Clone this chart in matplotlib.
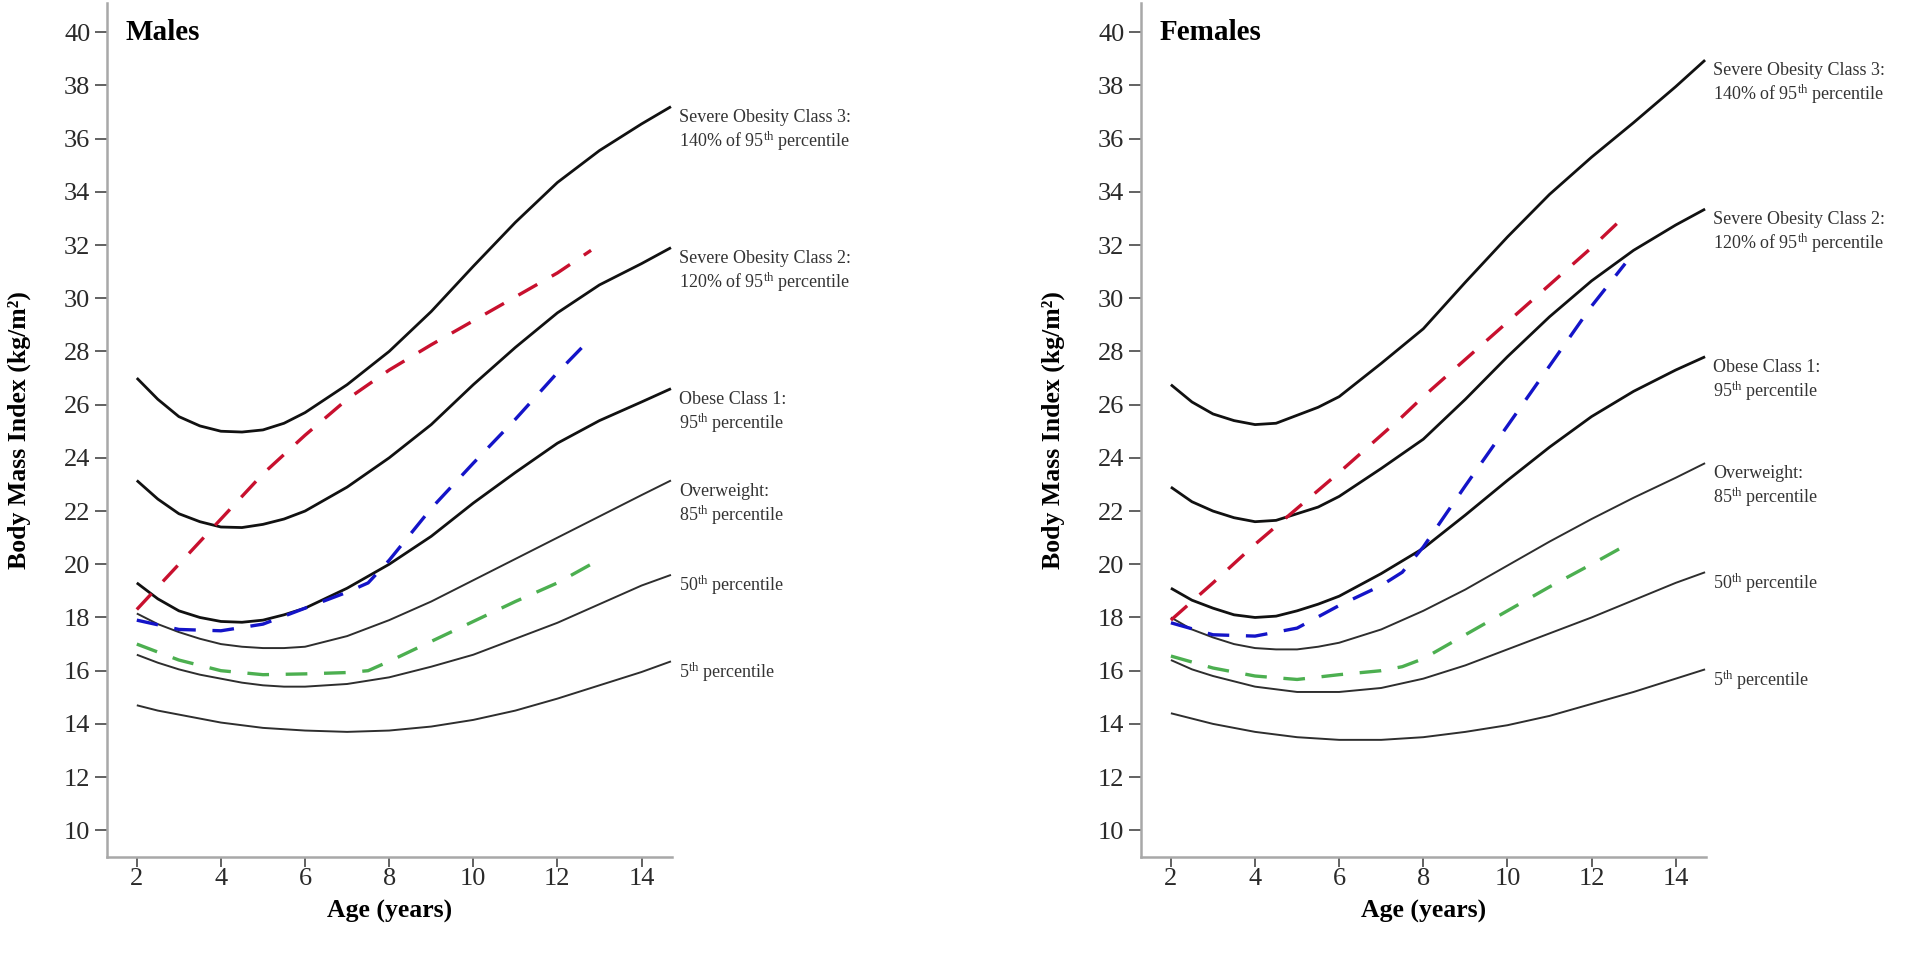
import matplotlib
matplotlib.use("Agg")
import matplotlib.pyplot as plt

# ages of the reference curves (years)
ages = [2, 2.5, 3, 3.5, 4, 4.5, 5, 5.5, 6, 7, 8, 9, 10, 11, 12, 13, 14, 14.7]
# ages of the dashed trajectories
traj_ages = [2, 3, 4, 5, 6, 7, 7.5, 8, 9, 10, 11, 12, 12.8]

# Males, BMI (kg/m2)
m_class3 = [27.0, 26.2, 25.55, 25.2, 25.0, 24.97, 25.05, 25.3, 25.7, 26.75, 28.0, 29.5,
            31.2, 32.85, 34.35, 35.55, 36.55, 37.2]
m_class2 = [23.15, 22.45, 21.9, 21.6, 21.4, 21.38, 21.5, 21.7, 22.0, 22.9, 24.0, 25.25,
            26.75, 28.15, 29.45, 30.5, 31.3, 31.9]
m_p95 = [19.3, 18.7, 18.25, 18.0, 17.85, 17.82, 17.9, 18.1, 18.35, 19.1, 20.0, 21.05,
         22.3, 23.45, 24.55, 25.4, 26.1, 26.6]
m_p85 = [18.15, 17.75, 17.45, 17.2, 17.0, 16.9, 16.85, 16.85, 16.9, 17.3, 17.9, 18.6,
         19.4, 20.2, 21.0, 21.8, 22.6, 23.15]
m_p50 = [16.6, 16.3, 16.05, 15.85, 15.7, 15.55, 15.45, 15.4, 15.4, 15.5, 15.75, 16.15,
         16.6, 17.2, 17.8, 18.5, 19.2, 19.6]
m_p5 = [14.7, 14.5, 14.35, 14.2, 14.05, 13.95, 13.85, 13.8, 13.75, 13.7, 13.75, 13.9,
        14.15, 14.5, 14.95, 15.45, 15.95, 16.35]

m_red = [18.3, 20.0, 21.7, 23.4, 24.85, 26.2, 26.75, 27.3, 28.25, 29.15, 30.05, 30.95, 31.8]
m_blue = [17.9, 17.55, 17.5, 17.75, 18.35, 18.95, 19.3, 20.15, 22.1, 23.8, 25.45, 27.2, 28.5]
m_green = [17.0, 16.4, 16.0, 15.85, 15.88, 15.93, 16.0, 16.35, 17.1, 17.85, 18.6, 19.3, 20.0]

# Females, BMI (kg/m2)
f_class3 = [26.75, 26.1, 25.65, 25.4, 25.25, 25.3, 25.6, 25.9, 26.3, 27.55, 28.85, 30.6,
            32.3, 33.9, 35.3, 36.6, 37.95, 38.95]
f_class2 = [22.9, 22.35, 22.0, 21.75, 21.6, 21.65, 21.9, 22.15, 22.55, 23.6, 24.7, 26.2,
            27.8, 29.3, 30.65, 31.8, 32.75, 33.35]
f_p95 = [19.1, 18.65, 18.35, 18.1, 18.0, 18.05, 18.25, 18.5, 18.8, 19.65, 20.6, 21.85,
         23.15, 24.4, 25.55, 26.5, 27.3, 27.8]
f_p85 = [18.0, 17.55, 17.25, 17.0, 16.85, 16.8, 16.8, 16.9, 17.05, 17.55, 18.25, 19.05,
         19.95, 20.85, 21.7, 22.5, 23.25, 23.8]
f_p50 = [16.4, 16.05, 15.8, 15.6, 15.4, 15.3, 15.2, 15.2, 15.2, 15.35, 15.7, 16.2,
         16.8, 17.4, 18.0, 18.65, 19.3, 19.7]
f_p5 = [14.4, 14.2, 14.0, 13.85, 13.7, 13.6, 13.5, 13.45, 13.4, 13.4, 13.5, 13.7,
        13.95, 14.3, 14.75, 15.2, 15.7, 16.05]

f_red = [17.9, 19.3, 20.75, 22.1, 23.45, 24.85, 25.55, 26.3, 27.7, 29.1, 30.5, 31.9, 33.1]
f_blue = [17.8, 17.35, 17.3, 17.6, 18.45, 19.2, 19.7, 20.65, 22.95, 25.2, 27.45, 29.7, 31.3]
f_green = [16.55, 16.1, 15.8, 15.67, 15.85, 16.0, 16.15, 16.45, 17.35, 18.25, 19.15, 20.0, 20.7]

curve_labels = [
    ["Severe Obesity Class 3:", r"140% of 95$^{\mathrm{th}}$ percentile"],
    ["Severe Obesity Class 2:", r"120% of 95$^{\mathrm{th}}$ percentile"],
    ["Obese Class 1:", r"95$^{\mathrm{th}}$ percentile"],
    ["Overweight:", r"85$^{\mathrm{th}}$ percentile"],
    [r"50$^{\mathrm{th}}$ percentile"],
    [r"5$^{\mathrm{th}}$ percentile"],
]

x_ticks = [2, 4, 6, 8, 10, 12, 14]
y_ticks = list(range(10, 41, 2))

plt.rcParams["font.family"] = "Liberation Serif"
plt.rcParams["mathtext.fontset"] = "custom"
plt.rcParams["mathtext.rm"] = "Liberation Serif"
plt.rcParams["mathtext.it"] = "Liberation Serif:italic"
plt.rcParams["mathtext.bf"] = "Liberation Serif:bold"

thick = dict(color="#111111", lw=2.0, solid_capstyle="butt")
thin = dict(color="#2e2e2e", lw=1.4, solid_capstyle="butt")
dash = dict(lw=2.4, dashes=(6.5, 5.0), dash_capstyle="butt")

panels = [
    ("Males", [m_class3, m_class2, m_p95, m_p85, m_p50, m_p5], [m_red, m_blue, m_green], 0.0557),
    ("Females", [f_class3, f_class2, f_p95, f_p85, f_p50, f_p5], [f_red, f_blue, f_green], 0.5943),
]
traj_colors = ["#c8102e", "#1414c8", "#4caf50"]

fig = plt.figure(figsize=(19.2, 9.65), dpi=100)

for title, curves, trajs, left in panels:
    ax = fig.add_axes([left, 0.112, 0.2942, 0.885])

    for i, vals in enumerate(curves):
        ax.plot(ages, vals, **(thick if i < 3 else thin))
        for j, line in enumerate(curve_labels[i]):
            ax.text(14.9, vals[-1] - 0.4 - 0.9 * j, line, fontsize=13,
                    color="#333333", ha="left", va="center", clip_on=False)

    for vals, c in zip(trajs, traj_colors):
        ax.plot(traj_ages, vals, color=c, **dash)

    ax.text(1.72, 40, title, fontsize=21, fontweight="bold", ha="left", va="center")

    ax.set_xlim(1.29, 14.72)
    ax.set_ylim(9.0, 41.1)
    ax.set_xticks(x_ticks)
    ax.set_yticks(y_ticks)
    for s in ["top", "right"]:
        ax.spines[s].set_visible(False)
    for s in ["left", "bottom"]:
        ax.spines[s].set_color("#a8a8a8")
        ax.spines[s].set_linewidth(1.8)
    ax.tick_params(direction="out", width=1.3, color="#555555",
                   labelsize=19, labelcolor="#2a2a2a")
    ax.tick_params(axis="y", length=8.5, pad=3.5)
    ax.tick_params(axis="x", length=7, pad=1)

    ax.set_ylabel("Body Mass Index (kg/m²)", fontsize=18.5, fontweight="bold")
    ax.yaxis.set_label_coords(-0.135, 0.5)
    ax.set_xlabel("Age (years)", fontsize=18.5, fontweight="bold")
    ax.xaxis.set_label_coords(0.5, -0.05)

fig.savefig("out.png", dpi=100, facecolor="white")
